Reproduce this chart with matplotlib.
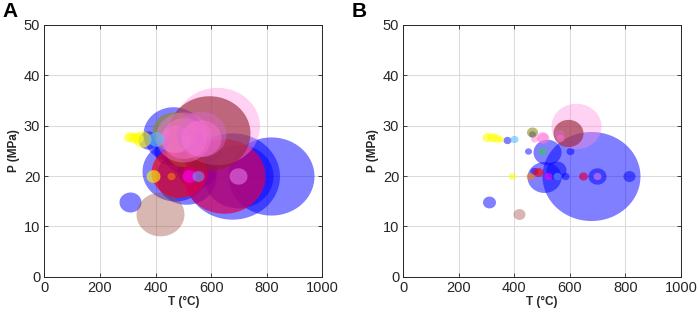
import numpy as np
import matplotlib
matplotlib.use("Agg")
import matplotlib.pyplot as plt
from matplotlib.path import Path

plt.rcParams['font.family'] = ['Liberation Sans', 'DejaVu Sans']

# ---------------- data ----------------
temp = [675, 696, 814, 508, 470, 516, 450, 600, 550, 582, 462, 372, 310,
        498, 417, 486, 648, 696, 456, 390, 520, 552,
        622, 594, 465, 498, 470, 504, 562, 564,
        303, 318, 334, 350, 400]
pres = [20.0, 20.0, 20.0, 19.8, 21.0, 24.8, 25.0, 25.0, 21.2, 20.0, 28.4, 27.2, 14.9,
        25.0, 12.5, 20.8, 20.0, 20.0, 20.0, 20.0, 20.0, 20.0,
        29.9, 28.5, 28.8, 27.8, 27.4, 27.5, 28.3, 27.6,
        27.7, 27.7, 27.5, 27.3, 27.4]
# bubble sizes (relative diameter) for panel A and panel B
size_a = [95, 70, 86, 60, 66, 50, 30, 20, 40, 16, 60, 20, 22,
          34, 48, 56, 82, 18, 8, 14, 14, 12,
          85, 82, 44, 55, 30, 45, 50, 40,
          11, 11, 12, 18, 16]
size_b = [98, 18, 12, 34, 8, 28, 7, 8, 20, 8, 7, 8, 13,
          8, 12, 10, 9, 8, 8, 7, 8, 8,
          50, 30, 11, 12, 7, 12, 10, 8,
          10, 10, 9, 7, 8]
group = ['blue', 'blue', 'blue', 'blue', 'blue', 'blue', 'blue', 'blue', 'blue', 'blue', 'blue', 'blue', 'blue',
         'green', 'rosy', 'red', 'crimson', 'violet', 'orange', 'yellow', 'magenta', 'cornflower',
         'lightpink', 'maroon', 'olive', 'pink', 'pink', 'pink', 'orchid', 'pink',
         'yellow', 'yellow', 'yellow', 'yellow', 'sky']

# ---------------- styles ----------------
colors = {
    'blue': ((0.0, 0.0, 1.0), 0.5),
    'rosy': ((0.62, 0.3, 0.25), 0.4),
    'red': ((1.0, 0.0, 0.0), 0.65),
    'crimson': ((0.85, 0.0, 0.35), 0.7),
    'violet': ((0.95, 0.55, 0.95), 0.5),
    'orange': ((1.0, 0.5, 0.0), 0.6),
    'yellow': ((1.0, 1.0, 0.0), 0.6),
    'magenta': ((1.0, 0.0, 1.0), 0.6),
    'cornflower': ((0.4, 0.6, 1.0), 0.6),
    'lightpink': ((1.0, 0.55, 0.88), 0.4),
    'maroon': ((0.58, 0.12, 0.18), 0.6),
    'olive': ((0.55, 0.55, 0.1), 0.6),
    'green': ((0.2, 0.8, 0.3), 0.6),
    'pink': ((1.0, 0.45, 0.85), 0.45),
    'orchid': ((0.85, 0.4, 0.8), 0.45),
    'sky': ((0.35, 0.75, 1.0), 0.6),
}

# ellipse marker (original figure slightly stretched horizontally)
theta = np.linspace(0, 2 * np.pi, 73)
ell = Path(np.column_stack([np.cos(theta), np.sin(theta) / 1.1]), closed=True)

W, H, DPI = 6.99, 3.18, 100
fig = plt.figure(figsize=(W, H), dpi=DPI)

axes_pos = [
    [44.3 / 699, 41.3 / 318, 278 / 699, 251.7 / 318],
    [403.3 / 699, 41.3 / 318, 277.7 / 699, 251.7 / 318],
]
dark = '#262626'
for pos, sizes, lab, lx in zip(axes_pos, [size_a, size_b], ['A', 'B'], [2 / 699, 352 / 699]):
    ax = fig.add_axes(pos)
    for t, p, s, g in zip(temp, pres, sizes, group):
        c, a = colors[g]
        ax.scatter([t], [p], s=(s * 0.72) ** 2, marker=ell, color=c, alpha=a,
                   linewidths=0, zorder=3)
    ax.set_xlim(0, 1000)
    ax.set_ylim(0, 50)
    ax.set_xticks(range(0, 1001, 200))
    ax.set_yticks(range(0, 51, 10))
    ax.grid(True, color='#dcdcdc', linewidth=0.8, zorder=0)
    ax.set_axisbelow(True)
    ax.tick_params(direction='in', top=True, right=True, length=3, width=0.6,
                   colors=dark, labelsize=10.5, pad=3)
    for sp in ax.spines.values():
        sp.set_color(dark)
        sp.set_linewidth(0.7)
    ax.set_xlabel('T (°C)', fontsize=8.5, fontweight='bold', color=dark, labelpad=1)
    ax.set_ylabel('P (MPa)', fontsize=8.5, fontweight='bold', color=dark, labelpad=3)
    fig.text(lx, 0.995, lab, fontsize=15, fontweight='bold', ha='left', va='top')

fig.savefig('out.png', dpi=DPI)
